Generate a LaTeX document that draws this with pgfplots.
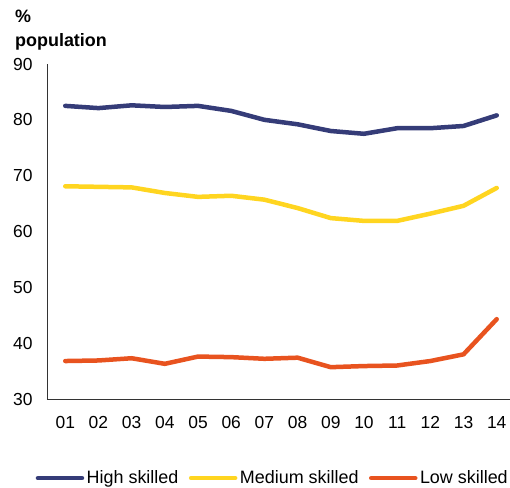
\documentclass[border=0pt]{standalone}
\usepackage{pgfplots}
\pgfplotsset{compat=1.18}
\usepackage{fontspec}
\setmainfont{Liberation Sans}
\definecolor{hi}{HTML}{353C78}
\definecolor{med}{HTML}{FFD520}
\definecolor{low}{HTML}{E8531F}
\begin{document}
\begin{tikzpicture}
\useasboundingbox (-47bp,-89bp) rectangle (463bp,399bp);
\begin{axis}[
  scale only axis, width=463bp, height=335bp,
  xmin=0.45, xmax=14.4, ymin=30, ymax=90,
  axis x line=bottom, axis y line=left,
  axis line style={-, black!80, line width=0.6pt},
  xtick={1,...,14},
  xticklabels={01,02,03,04,05,06,07,08,09,10,11,12,13,14},
  ytick={30,40,...,90},
  major tick length=0pt,
  tick style={draw=none},
  ticklabel style={font=\fontsize{17.5}{20}\selectfont},
  /pgf/number format/assume math mode=true,
  xticklabel style={yshift=-14bp},
  yticklabel style={xshift=-11bp},
  legend columns=3,
  legend style={at={(0.487,-0.236)}, anchor=center, draw=none, fill=none,
    font=\fontsize{18}{20}\selectfont, column sep=0bp,
    nodes={inner sep=1.5bp},
    /tikz/every odd column/.append style={column sep=1bp},
    /tikz/every even column/.append style={column sep=9bp}},
  legend image code/.code={\draw[#1] (0bp,0bp) -- (44bp,0bp);},
  every axis plot/.append style={line width=4.5bp, line join=round, line cap=round},
  clip=false,
]
\addplot[hi] coordinates {(1,82.5)(2,82.1)(3,82.6)(4,82.3)(5,82.5)(6,81.6)(7,80.0)(8,79.2)(9,78.0)(10,77.5)(11,78.5)(12,78.5)(13,78.9)(14,80.8)};
\addplot[med] coordinates {(1,68.1)(2,68.0)(3,67.9)(4,66.9)(5,66.2)(6,66.4)(7,65.7)(8,64.2)(9,62.4)(10,61.9)(11,61.9)(12,63.2)(13,64.6)(14,67.8)};
\addplot[low] coordinates {(1,36.8)(2,36.9)(3,37.3)(4,36.3)(5,37.6)(6,37.5)(7,37.2)(8,37.4)(9,35.7)(10,35.9)(11,36.0)(12,36.8)(13,38.0)(14,44.3)};
\legend{High skilled, Medium skilled, Low skilled}
\node[anchor=base west, inner sep=0pt, font=\bfseries\fontsize{18}{21}\selectfont] at ([xshift=-32bp,yshift=41bp]rel axis cs:0,1) {\%};
\node[anchor=base west, inner sep=0pt, font=\bfseries\fontsize{18}{21}\selectfont] at ([xshift=-32bp,yshift=17bp]rel axis cs:0,1) {population};
\end{axis}
\end{tikzpicture}
\end{document}
